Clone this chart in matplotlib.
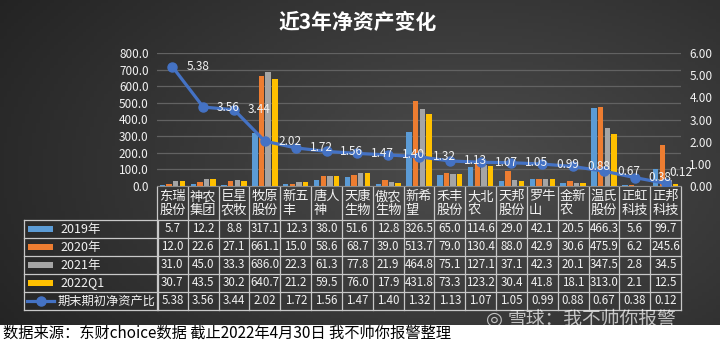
import numpy as np
import matplotlib
matplotlib.use('Agg')
from matplotlib import pyplot as plt
from matplotlib.lines import Line2D
from matplotlib.patches import Rectangle
from matplotlib.transforms import blended_transform_factory

plt.rcParams['font.family'] = ['Noto Sans CJK SC', 'DejaVu Sans']

title = '近3年净资产变化'
names = ['东瑞\n股份', '神农\n集团', '巨星\n农牧', '牧原\n股份', '新五\n丰', '唐人\n神',
         '天康\n生物', '傲农\n生物', '新希\n望', '禾丰\n股份', '大北\n农', '天邦\n股份',
         '罗牛\n山', '金新\n农', '温氏\n股份', '正虹\n科技', '正邦\n科技']
y2019 = [5.7, 12.2, 8.8, 317.1, 12.3, 38.0, 51.6, 12.8, 326.5, 65.0, 114.6, 29.0, 42.1, 20.5, 466.3, 5.6, 99.7]
y2020 = [12.0, 22.6, 27.1, 661.1, 15.0, 58.6, 68.7, 39.0, 513.7, 79.0, 130.4, 88.0, 42.9, 30.6, 475.9, 6.2, 245.6]
y2021 = [31.0, 45.0, 33.3, 686.0, 22.3, 61.3, 77.8, 21.9, 464.8, 75.1, 127.1, 37.1, 42.3, 20.1, 347.5, 2.8, 34.5]
y2022q1 = [30.7, 43.5, 30.2, 640.7, 21.2, 59.5, 76.0, 17.9, 431.8, 73.3, 123.2, 30.4, 41.8, 18.1, 313.0, 2.1, 12.5]
ratio = [5.38, 3.56, 3.44, 2.02, 1.72, 1.56, 1.47, 1.40, 1.32, 1.13, 1.07, 1.05, 0.99, 0.88, 0.67, 0.38, 0.12]
series_names = ['2019年', '2020年', '2021年', '2022Q1']
line_name = '期末期初净资产比'
source = '数据来源：东财choice数据 截止2022年4月30日 我不帅你报警整理'
watermark = '雪球：我不帅你报警'

colors = ['#5B9BD5', '#ED7D31', '#A5A5A5', '#FFC000']
line_color = '#4472C4'
txt = '#f2f2f2'
W, H = 720, 341


def fx(p):
    return p / W


def fy(p):
    return 1 - p / H


fig = plt.figure(figsize=(7.2, 3.41), dpi=100)
fig.patch.set_facecolor('white')

# background (dark, radial-ish gradient)
bg = fig.add_axes([0, fy(325), 1, 325 / H])
gx, gy = np.meshgrid(np.linspace(0, W, 200), np.linspace(0, 325, 100))
d = np.sqrt(((gx - 470) / 520) ** 2 + ((gy - 170) / 300) ** 2)
shade = np.clip(0.30 - 0.15 * d, 0.12, 0.30)
bg.imshow(np.dstack([shade] * 3), extent=[0, W, 325, 0], aspect='auto')
bg.axis('off')

# main axes
ax = fig.add_axes([fx(157), fy(186), fx(681 - 157), (186 - 53) / H])
ax.patch.set_alpha(0)
x = np.arange(len(names))
allbars = [y2019, y2020, y2021, y2022q1]
bw = 0.175
for i, vals in enumerate(allbars):
    ax.bar(x + (i - 1.5) * 0.215, vals, bw, color=colors[i], zorder=3)
ax.set_xlim(-0.5, len(names) - 0.5)
ax.set_ylim(0, 800)
ax.set_yticks(np.arange(0, 801, 100))
ax.set_yticklabels(['%.1f' % v for v in np.arange(0, 801, 100)])
ax.grid(axis='y', color='#626262', lw=0.9, zorder=0)
ax.set_xticks([])
ax.tick_params(axis='y', length=0, pad=6, labelcolor=txt, labelsize=8.5)
for s in ['top', 'right', 'left']:
    ax.spines[s].set_visible(False)
ax.spines['bottom'].set_color('#8a8a8a')

ax2 = ax.twinx()
ax2.set_ylim(0, 6)
ax2.set_yticks(np.arange(0, 7, 1))
ax2.set_yticklabels(['%.2f' % v for v in range(7)])
ax2.tick_params(axis='y', length=0, pad=6, labelcolor=txt, labelsize=8.5)
for s in ax2.spines.values():
    s.set_visible(False)
ax2.plot(x, ratio, color=line_color, lw=2.3, marker='o', ms=6.5, zorder=5)
for xi, r in zip(x, ratio):
    # last one would sit on the right tick labels, pull it in a little
    off = (3, 8) if xi == len(ratio) - 1 else (10, 0)
    ax2.annotate('%.2f' % r, (xi, r), xytext=off, textcoords='offset points',
                 ha='left', va='center', color=txt, fontsize=8.5, zorder=6)

# title
fig.text(0.497, fy(22), title, ha='center', va='center', color='white',
         fontsize=15, fontweight='bold')

# data table
tb = blended_transform_factory(ax.transData, fig.transFigure)
lc = '#c8c8c8'
rows = [187, 220, 238, 256, 274, 292, 310]
n = len(names)
for k in range(n + 1):
    fig.add_artist(Line2D([k - 0.5, k - 0.5], [fy(187), fy(310)], transform=tb, color=lc, lw=0.9))
for k, nm in enumerate(names):
    fig.text(k - 0.5 + 0.07, fy(203.5), nm, transform=tb, ha='left', va='center',
             color=txt, fontsize=9.5, linespacing=1.05)
for r in rows[1:]:
    fig.add_artist(Line2D([fx(24), fx(681)], [fy(r), fy(r)], color=lc, lw=0.9))
fig.add_artist(Line2D([fx(24), fx(24)], [fy(220), fy(310)], color=lc, lw=0.9))
fig.add_artist(Line2D([fx(158), fx(158)], [fy(220), fy(310)], color=lc, lw=0.9))

table_vals = allbars + [ratio]
fmts = ['%.1f'] * 4 + ['%.2f']
labels = series_names + [line_name]
for j, vals in enumerate(table_vals):
    yc = fy((rows[j + 1] + rows[j + 2]) / 2)
    for k, v in enumerate(vals):
        fig.text(k, yc, fmts[j] % v, transform=tb, ha='center', va='center',
                 color=txt, fontsize=8.3)
    if j < 4:
        fig.add_artist(Rectangle((fx(28), yc - 3 / H), fx(25), 6 / H,
                                 facecolor=colors[j], edgecolor='none'))
        fig.text(fx(60), yc, labels[j], ha='left', va='center', color=txt, fontsize=9)
    else:
        fig.add_artist(Line2D([fx(27), fx(54)], [yc, yc], color=line_color, lw=2.3))
        fig.add_artist(Line2D([fx(40.5)], [yc], color=line_color, marker='o', ms=6.5))
        fig.text(fx(58), yc, labels[j], ha='left', va='center', color=txt, fontsize=8.8)

# watermark
fig.text(fx(508), fy(319), watermark, ha='left', va='center', color='white',
         alpha=0.7, fontsize=13.5)
fig.text(fx(494), fy(319), '◎', ha='center', va='center', color='white',
         alpha=0.7, fontsize=14, family=['DejaVu Sans'])

# footer
fig.text(fx(3), fy(333), source, ha='left', va='center', color='black', fontsize=11)

fig.savefig('out.png', dpi=100)
